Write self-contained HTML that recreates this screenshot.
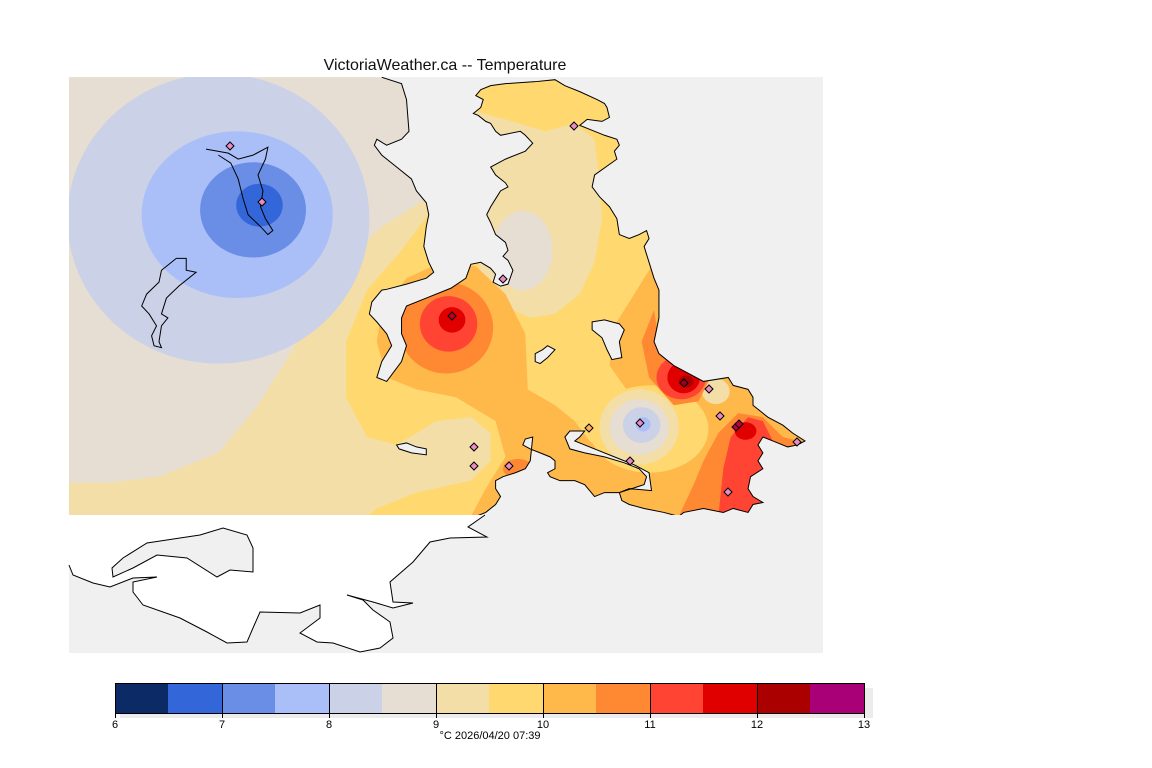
<!DOCTYPE html>
<html><head><meta charset="utf-8"><style>
html,body{margin:0;padding:0;background:#fff;}
svg{display:block;}
text{font-family:"Liberation Sans",sans-serif;}
</style></head><body>
<svg width="1152" height="768" viewBox="0 0 1152 768" xmlns="http://www.w3.org/2000/svg">
<rect width="1152" height="768" fill="#fff"/>
<text x="445" y="70" font-size="16" text-anchor="middle" fill="#111">VictoriaWeather.ca -- Temperature</text>
<rect x="69" y="77" width="754" height="576" fill="#f0f0f0"/>
<defs><clipPath id="cf"><rect x="69" y="77" width="754" height="438"/></clipPath></defs>
<g clip-path="url(#cf)">
<g transform="translate(60,40) scale(0.495,0.397)">
<rect x="18" y="94" width="1540" height="1106" fill="#f2dea6"/>
<ellipse cx="320" cy="450" rx="305" ry="365" fill="#cbd1e6"/>
<polygon fill="#ffd970" points="780,380 690,530 620,630 578,760 578,900 620,1000 680,1020 760,960 830,950 870,990 870,1060 830,1110 720,1140 640,1180 620,1200 1556,1200 1556,94 780,94"/>
<path fill="#e6ded2" fill-rule="evenodd" d="M18,94 L790,94 L790,380 L740,400 L650,470 L560,580 L480,760 L400,920 L320,1040 L200,1100 L100,1115 L18,1115 Z"/>
<ellipse cx="320" cy="450" rx="305" ry="365" fill="#cbd1e6"/>
<ellipse cx="358" cy="440" rx="193" ry="210" fill="#aabff7"/>
<ellipse cx="390" cy="428" rx="107" ry="120" fill="#6a8ee6"/>
<ellipse cx="403" cy="416" rx="47" ry="54" fill="#3366d9"/>
<polygon fill="#f2dea6" points="840,180 900,200 980,230 1040,210 1080,250 1090,350 1095,450 1080,560 1050,640 1000,690 950,700 880,660 850,600 830,400"/>
<ellipse cx="935" cy="530" rx="60" ry="100" fill="#e6ded2"/>
<polygon fill="#ffb84a" points="640,760 650,680 700,600 770,560 840,570 900,640 940,740 945,880 1000,920 1040,960 1070,1010 1110,1050 1150,1080 1120,1100 1060,1090 1000,1080 960,1120 900,1180 860,1200 830,1200 860,1130 900,1050 880,960 800,900 720,880 660,850"/>
<polygon fill="#ffb84a" points="1100,1040 1180,1090 1240,1060 1280,990 1300,950 1220,940 1150,890 1110,820 1120,720 1160,640 1200,560 1556,560 1556,1200 980,1200 980,1040"/>
<ellipse cx="1190" cy="980" rx="120" ry="110" fill="#ffd970"/>
<ellipse cx="1325" cy="885" rx="28" ry="32" fill="#f2dea6"/>
<ellipse cx="1170" cy="975" rx="80" ry="95" fill="#f2dea6"/>
<ellipse cx="1170" cy="975" rx="60" ry="70" fill="#e6ded2"/>
<ellipse cx="1175" cy="970" rx="38" ry="45" fill="#cbd1e6"/>
<ellipse cx="1178" cy="968" rx="15" ry="18" fill="#aabff7"/>
<ellipse cx="780" cy="725" rx="95" ry="115" fill="#ff8833"/>
<ellipse cx="785" cy="715" rx="58" ry="70" fill="#ff4433"/>
<ellipse cx="792" cy="705" rx="27" ry="32" fill="#e00000"/>
<polygon fill="#ff8833" points="1200,680 1175,760 1190,850 1240,920 1290,910 1310,860 1250,800 1210,760"/>
<ellipse cx="1255" cy="850" rx="50" ry="55" fill="#ff4433"/>
<ellipse cx="1260" cy="850" rx="33" ry="40" fill="#e00000"/>
<ellipse cx="1265" cy="860" rx="15" ry="15" fill="#aa0000"/>
<polygon fill="#ff8833" points="1250,1200 1280,1120 1300,1060 1330,990 1370,940 1420,950 1460,1000 1510,1015 1420,1200"/>
<polygon fill="#ff4433" points="1330,1200 1340,1080 1355,1000 1390,950 1420,960 1440,1010 1420,1200"/>
<circle cx="1385" cy="985" r="22" fill="#e00000"/>
<ellipse cx="925" cy="1080" rx="30" ry="25" fill="#ff8833"/>
<polygon fill="#f0f0f0" points="650,94 690,110 700,150 705,230 690,250 660,265 640,250 635,265 650,290 680,320 710,350 720,380 740,410 745,440 740,470 735,520 745,560 755,585 740,600 700,615 660,628 650,630 630,660 625,690 640,710 660,740 670,770 660,790 650,810 640,850 660,860 690,810 700,770 690,740 690,700 700,670 740,650 790,625 820,600 830,565 850,560 870,575 880,590 875,610 890,620 905,615 915,580 905,555 895,545 905,530 900,510 880,490 870,460 862,440 870,420 880,400 890,380 905,370 900,360 880,340 870,320 900,300 940,280 955,260 940,240 930,230 890,240 880,230 870,210 860,205 845,190 835,185 850,170 855,150 840,140 850,125 870,115 900,110 960,105 1000,100 1020,115 1050,130 1085,150 1100,160 1105,170 1110,195 1095,205 1065,200 1050,215 1080,230 1100,240 1125,250 1130,265 1120,280 1125,300 1080,340 1075,370 1090,395 1110,420 1125,450 1130,490 1150,500 1170,490 1185,480 1190,500 1180,520 1190,560 1200,600 1210,630 1210,700 1200,760 1210,790 1240,820 1300,860 1350,850 1360,870 1390,880 1400,900 1400,920 1430,950 1460,970 1480,990 1505,1010 1490,1020 1470,1025 1440,1010 1420,1000 1410,1020 1420,1040 1410,1060 1420,1080 1395,1100 1390,1130 1400,1150 1420,1165 1400,1170 1390,1190 1360,1180 1340,1190 1300,1180 1260,1190 1250,1200 1220,1190 1180,1180 1150,1170 1135,1160 1130,1140 1150,1130 1195,1135 1190,1090 1160,1070 1120,1050 1080,1030 1040,1010 1050,1000 1060,985 1030,985 1020,1000 1030,1030 1060,1040 1100,1050 1140,1065 1170,1080 1185,1100 1180,1120 1130,1140 1100,1140 1080,1150 1060,1120 1040,1110 1010,1110 990,1100 985,1090 1000,1080 1000,1060 990,1050 970,1040 950,1030 935,1020 940,1005 955,1000 950,1060 940,1080 920,1090 895,1100 880,1110 880,1130 890,1150 880,1170 860,1190 840,1200 840,1560 1560,1560 1560,90 650,90"/>
<polyline fill="none" stroke="#000" stroke-width="1" vector-effect="non-scaling-stroke" points="650,94 690,110 700,150 705,230 690,250 660,265 640,250 635,265 650,290 680,320 710,350 720,380 740,410 745,440 740,470 735,520 745,560 755,585 740,600 700,615 660,628 650,630 630,660 625,690 640,710 660,740 670,770 660,790 650,810 640,850 660,860 690,810 700,770 690,740 690,700 700,670 740,650 790,625 820,600 830,565 850,560 870,575 880,590 875,610 890,620 905,615 915,580 905,555 895,545 905,530 900,510 880,490 870,460 862,440 870,420 880,400 890,380 905,370 900,360 880,340 870,320 900,300 940,280 955,260 940,240 930,230 890,240 880,230 870,210 860,205 845,190 835,185 850,170 855,150 840,140 850,125 870,115 900,110 960,105 1000,100 1020,115 1050,130 1085,150 1100,160 1105,170 1110,195 1095,205 1065,200 1050,215 1080,230 1100,240 1125,250 1130,265 1120,280 1125,300 1080,340 1075,370 1090,395 1110,420 1125,450 1130,490 1150,500 1170,490 1185,480 1190,500 1180,520 1190,560 1200,600 1210,630 1210,700 1200,760 1210,790 1240,820 1300,860 1350,850 1360,870 1390,880 1400,900 1400,920 1430,950 1460,970 1480,990 1505,1010 1490,1020 1470,1025 1440,1010 1420,1000 1410,1020 1420,1040 1410,1060 1420,1080 1395,1100 1390,1130 1400,1150 1420,1165 1400,1170 1390,1190 1360,1180 1340,1190 1300,1180 1260,1190 1250,1200 1220,1190 1180,1180 1150,1170 1135,1160 1130,1140 1150,1130 1195,1135 1190,1090 1160,1070 1120,1050 1080,1030 1040,1010 1050,1000 1060,985 1030,985 1020,1000 1030,1030 1060,1040 1100,1050 1140,1065 1170,1080 1185,1100 1180,1120 1130,1140 1100,1140 1080,1150 1060,1120 1040,1110 1010,1110 990,1100 985,1090 1000,1080 1000,1060 990,1050 970,1040 950,1030 935,1020 940,1005 955,1000 950,1060 940,1080 920,1090 895,1100 880,1110 880,1130 890,1150 880,1170 860,1190 840,1200"/>
<g fill="#f0f0f0" stroke="#000" stroke-width="1">
<polygon vector-effect="non-scaling-stroke" points="1075,710 1100,705 1130,715 1140,730 1130,760 1135,800 1115,805 1105,780 1095,750 1075,730"/>
<polygon vector-effect="non-scaling-stroke" points="960,790 975,780 985,770 1000,780 985,800 970,815 960,810"/>
<polygon vector-effect="non-scaling-stroke" points="680,1020 700,1015 720,1025 740,1030 740,1045 710,1040 685,1030"/>
<polyline fill="none" vector-effect="non-scaling-stroke" points="295,275 340,285 360,300 390,290 420,270 415,300 400,340 410,380 405,420 415,450 430,480 420,490 405,470 380,440 370,400 360,350 345,310 320,290"/>
<polyline fill="none" vector-effect="non-scaling-stroke" points="235,550 255,550 255,580 275,585 240,620 215,650 205,690 218,700 205,720 200,760 205,775 190,770 185,745 195,720 180,690 165,670 175,640 200,610 205,580 235,550"/>
</g>
</g>
</g>
<polygon fill="#fff" points="69,515 485,515 468,527 487,537 450,538 430,542 413,562 390,582 393,602 413,603 393,608 373,602 347,595 363,600 373,610 390,622 393,638 380,648 360,652 333,643 317,642 300,633 320,618 320,605 300,613 260,612 253,628 247,642 227,643 207,632 180,618 143,605 133,592 133,582 157,577 133,578 110,587 93,583 73,575 69,565"/>
<polyline fill="none" stroke="#000" stroke-width="1" points="485,515 468,527 487,537 450,538 430,542 413,562 390,582 393,602 413,603 393,608 373,602 347,595 363,600 373,610 390,622 393,638 380,648 360,652 333,643 317,642 300,633 320,618 320,605 300,613 260,612 253,628 247,642 227,643 207,632 180,618 143,605 133,592 133,582 157,577 133,578 110,587 93,583 73,575 69,565"/>
<polygon fill="#f0f0f0" stroke="#000" stroke-width="1" points="113,577 112,568 123,558 147,543 180,538 200,535 223,528 247,535 253,548 253,572 230,570 217,577 187,558 157,555 133,568"/>
<g fill="#e88cc4" stroke="#000" stroke-width="1">
<path d="M230,142l4,4l-4,4l-4,-4z"/><path d="M262,198l4,4l-4,4l-4,-4z"/>
<path d="M574,122l4,4l-4,4l-4,-4z"/><path d="M503,275l4,4l-4,4l-4,-4z"/>
<path d="M452,312l4,4l-4,4l-4,-4z" fill="#c00020"/><path d="M684,379l4,4l-4,4l-4,-4z" fill="#a00020"/>
<path d="M709,385l4,4l-4,4l-4,-4z"/><path d="M640,419l4,4l-4,4l-4,-4z"/>
<path d="M589,424l4,4l-4,4l-4,-4z" fill="#ffb060"/><path d="M720,412l4,4l-4,4l-4,-4z"/>
<path d="M736,423l4,4l-4,4l-4,-4z" fill="#c00040"/><path d="M739,420l4,4l-4,4l-4,-4z" fill="#c00040"/>
<path d="M797,438l4,4l-4,4l-4,-4z"/><path d="M474,443l4,4l-4,4l-4,-4z"/>
<path d="M474,462l4,4l-4,4l-4,-4z"/><path d="M509,462l4,4l-4,4l-4,-4z"/>
<path d="M728,488l4,4l-4,4l-4,-4z"/><path d="M630,457l4,4l-4,4l-4,-4z"/>
</g>
<rect x="120" y="688" width="753" height="30" fill="#ececec"/>
<g stroke="none">
<rect x="115" y="683" width="54" height="30" fill="#0c2a66"/>
<rect x="168" y="683" width="54" height="30" fill="#3366d9"/>
<rect x="222" y="683" width="54" height="30" fill="#6a8ee6"/>
<rect x="275" y="683" width="54" height="30" fill="#aabff7"/>
<rect x="329" y="683" width="54" height="30" fill="#cbd1e6"/>
<rect x="382" y="683" width="54" height="30" fill="#e6ded2"/>
<rect x="436" y="683" width="54" height="30" fill="#f2dea6"/>
<rect x="489" y="683" width="54" height="30" fill="#ffd970"/>
<rect x="543" y="683" width="54" height="30" fill="#ffb84a"/>
<rect x="596" y="683" width="54" height="30" fill="#ff8833"/>
<rect x="650" y="683" width="54" height="30" fill="#ff4433"/>
<rect x="703" y="683" width="54" height="30" fill="#e00000"/>
<rect x="757" y="683" width="54" height="30" fill="#aa0000"/>
<rect x="810" y="683" width="54" height="30" fill="#aa0077"/>
</g>
<rect x="115.5" y="683.5" width="749" height="30" fill="none" stroke="#000"/>
<g stroke="#000">
<line x1="115.5" y1="683" x2="115.5" y2="718"/><line x1="222.5" y1="683" x2="222.5" y2="718"/>
<line x1="329.5" y1="683" x2="329.5" y2="718"/><line x1="436.5" y1="683" x2="436.5" y2="718"/>
<line x1="543.5" y1="683" x2="543.5" y2="718"/><line x1="650.5" y1="683" x2="650.5" y2="718"/>
<line x1="757.5" y1="683" x2="757.5" y2="718"/><line x1="864.5" y1="683" x2="864.5" y2="718"/>
</g>
<g font-size="11" text-anchor="middle" fill="#000">
<text x="115" y="728">6</text><text x="222" y="728">7</text><text x="329" y="728">8</text>
<text x="436" y="728">9</text><text x="543" y="728">10</text><text x="650" y="728">11</text>
<text x="757" y="728">12</text><text x="864" y="728">13</text>
<text x="490" y="739">°C  2026/04/20 07:39</text>
</g>
</svg>
</body></html>
